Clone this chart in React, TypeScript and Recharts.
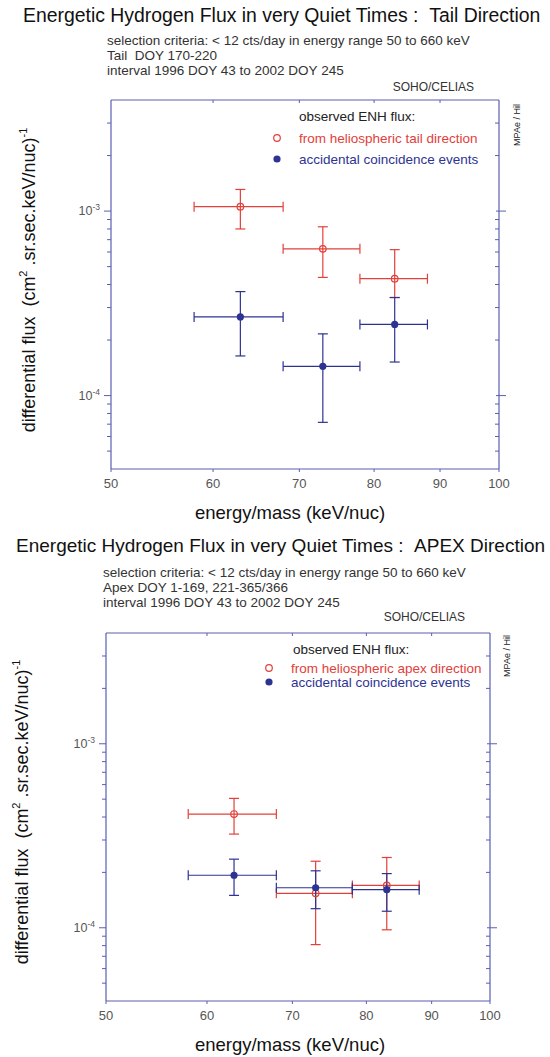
import React from 'react';
import { ScatterChart, Scatter, XAxis, YAxis, ErrorBar } from 'recharts';

// ---- data ----
const energyCenters = [63, 73, 83];
const energyLow = [58, 68, 78];
const energyHigh = [68, 78, 88];

const tailFlux = [1.057e-3, 6.24e-4, 4.3e-4];
const tailFluxLow = [8.0e-4, 4.37e-4, 3.4e-4];
const tailFluxHigh = [1.31e-3, 8.22e-4, 6.18e-4];

const tailAccFlux = [2.67e-4, 1.44e-4, 2.43e-4];
const tailAccLow = [1.64e-4, 7.16e-5, 1.52e-4];
const tailAccHigh = [3.66e-4, 2.16e-4, 3.4e-4];

const apexFlux = [4.15e-4, 1.54e-4, 1.7e-4];
const apexFluxLow = [3.23e-4, 8.1e-5, 9.75e-5];
const apexFluxHigh = [5.05e-4, 2.3e-4, 2.41e-4];

const apexAccFlux = [1.93e-4, 1.65e-4, 1.61e-4];
const apexAccLow = [1.5e-4, 1.27e-4, 1.23e-4];
const apexAccHigh = [2.36e-4, 2.04e-4, 1.97e-4];

const xTicks = [50, 60, 70, 80, 90, 100];
const xTopTicks = [60, 70, 80, 90];
const yTicks = [
  5e-5, 6e-5, 7e-5, 8e-5, 9e-5, 1e-4, 2e-4, 3e-4, 4e-4, 5e-4, 6e-4, 7e-4, 8e-4, 9e-4, 1e-3, 2e-3, 3e-3,
];
const yMajorTicks = [1e-4, 1e-3];
const yMajorLabels = ['-4', '-3'];
const xDomain = [50, 100];
const yDomain = [4e-5, 4e-3];

const NB = '\u00A0';
const subtitleTail = [
  'selection criteria: < 12 cts/day in energy range 50 to 660 keV',
  `Tail ${NB}DOY 170-220`,
  'interval 1996 DOY 43 to 2002 DOY 245',
];
const subtitleApex = [
  'selection criteria: < 12 cts/day in energy range 50 to 660 keV',
  'Apex DOY 1-169, 221-365/366',
  'interval 1996 DOY 43 to 2002 DOY 245',
];

// ---- styles ----
const AXIS = '#5a5eb2';
const RED = '#e2403a';
const BLUE = '#2d3392';
const FONT = '"Liberation Sans", Arial, sans-serif';
const TICKTXT = '#555';

function makeRows(y: number[], lo: number[], hi: number[]) {
  return energyCenters.map((x, i) => ({
    x,
    y: y[i],
    ex: [x - energyLow[i], energyHigh[i] - x],
    ey: [y[i] - lo[i], hi[i] - y[i]],
  }));
}

const isMajor = (v: number) => yMajorTicks.some((m) => Math.abs(m - v) / m < 1e-6);

const LeftTick = (props: any) => {
  const { x, y, payload } = props;
  const v = payload.value;
  const major = isMajor(v);
  const idx = yMajorTicks.findIndex((m) => Math.abs(m - v) / m < 1e-6);
  return (
    <g>
      <line x1={x - (major ? 7 : 4)} x2={x} y1={y} y2={y} stroke={AXIS} strokeWidth={1} />
      {major && (
        <text x={x - 11} y={y + 4} textAnchor="end" fontSize={12.5} fill={TICKTXT} fontFamily={FONT}>
          10<tspan dy={-5} fontSize={8.5}>{yMajorLabels[idx]}</tspan>
        </text>
      )}
    </g>
  );
};

const RightTick = (props: any) => {
  const { x, y, payload } = props;
  const major = isMajor(payload.value);
  return major ? (
    <line x1={x - 3} x2={x + 7} y1={y} y2={y} stroke={AXIS} strokeWidth={1} />
  ) : (
    <line x1={x - 4} x2={x} y1={y} y2={y} stroke={AXIS} strokeWidth={1} />
  );
};

const BottomTick = (props: any) => {
  const { x, y, payload } = props;
  return (
    <g>
      <line x1={x} x2={x} y1={y} y2={y + 3} stroke={AXIS} strokeWidth={1} />
      <text x={x} y={y + 19} textAnchor="middle" fontSize={13} fill={TICKTXT} fontFamily={FONT}>
        {payload.value}
      </text>
    </g>
  );
};

const TopTick = (props: any) => {
  const { x, y } = props;
  return <line x1={x} x2={x} y1={y} y2={y + 3} stroke={AXIS} strokeWidth={1} />;
};

const OpenCircle = (p: any) => (
  <circle cx={p.cx} cy={p.cy} r={3.3} fill="none" stroke={RED} strokeWidth={1.2} />
);
const FilledCircle = (p: any) => <circle cx={p.cx} cy={p.cy} r={3.6} fill={BLUE} stroke="none" />;

type PanelProps = {
  top: number;
  height: number;
  plot: { left: number; right: number; top: number; bottom: number };
  title: string;
  titleX: number;
  titleY: number;
  titleSize: number;
  subtitles: string[];
  subX: number;
  subY: number;
  sohoX: number;
  sohoY: number;
  mpaeX: number;
  mpaeY: number;
  legend: { x: number; y: number; mx: number; tx: number; r1: number; r2: number; label: string };
  ylabel: { x: number; y: number };
  xlabel: { x: number; y: number };
  red: any[];
  blue: any[];
};

const Panel = (p: PanelProps) => {
  const W = 550;
  const margin = {
    left: p.plot.left - 40,
    right: W - p.plot.right - 10,
    top: p.plot.top - 10,
    bottom: p.height - p.plot.bottom - 30,
  };
  return (
    <div style={{ position: 'absolute', left: 0, top: p.top, width: W, height: p.height }}>
      <ScatterChart width={W} height={p.height} margin={margin}>
        <XAxis
          xAxisId="b"
          dataKey="x"
          type="number"
          scale="log"
          domain={xDomain}
          ticks={xTicks}
          interval={0}
          allowDataOverflow
          height={30}
          tickSize={0}
          tickMargin={0}
          tickLine={false}
          axisLine={{ stroke: AXIS, strokeWidth: 1.2 }}
          tick={<BottomTick />}
        />
        <XAxis
          xAxisId="t"
          orientation="top"
          dataKey="x"
          type="number"
          scale="log"
          domain={xDomain}
          ticks={xTopTicks}
          interval={0}
          allowDataOverflow
          height={10}
          tickSize={0}
          tickMargin={0}
          tickLine={false}
          axisLine={{ stroke: AXIS, strokeWidth: 1.2 }}
          tick={<TopTick />}
        />
        <YAxis
          yAxisId="l"
          dataKey="y"
          type="number"
          scale="log"
          domain={yDomain}
          ticks={yTicks}
          interval={0}
          allowDataOverflow
          width={40}
          tickSize={0}
          tickMargin={0}
          tickLine={false}
          axisLine={{ stroke: AXIS, strokeWidth: 1.2 }}
          tick={<LeftTick />}
        />
        <YAxis
          yAxisId="r"
          orientation="right"
          dataKey="y"
          type="number"
          scale="log"
          domain={yDomain}
          ticks={yTicks}
          interval={0}
          allowDataOverflow
          width={10}
          tickSize={0}
          tickMargin={0}
          tickLine={false}
          axisLine={{ stroke: AXIS, strokeWidth: 1.2 }}
          tick={<RightTick />}
        />
        <Scatter data={p.red} xAxisId="b" yAxisId="l" isAnimationActive={false} shape={OpenCircle}>
          <ErrorBar dataKey="ex" direction="x" width={5} stroke={RED} strokeWidth={1.2} isAnimationActive={false} />
          <ErrorBar dataKey="ey" direction="y" width={5} stroke={RED} strokeWidth={1.2} isAnimationActive={false} />
        </Scatter>
        <Scatter data={p.blue} xAxisId="b" yAxisId="l" isAnimationActive={false} shape={FilledCircle}>
          <ErrorBar dataKey="ex" direction="x" width={5} stroke={BLUE} strokeWidth={1.2} isAnimationActive={false} />
          <ErrorBar dataKey="ey" direction="y" width={5} stroke={BLUE} strokeWidth={1.2} isAnimationActive={false} />
        </Scatter>
        {/* invisible series to bind secondary axes */}
        <Scatter data={p.blue} xAxisId="t" yAxisId="r" isAnimationActive={false} shape={() => <g />} />
      </ScatterChart>
      <svg
        width={W}
        height={p.height}
        style={{ position: 'absolute', left: 0, top: 0, pointerEvents: 'none' }}
        fontFamily={FONT}
      >
        <text x={p.titleX} y={p.titleY} fontSize={p.titleSize} fill="#111">
          {p.title}
        </text>
        {p.subtitles.map((s, i) => (
          <text key={i} x={p.subX} y={p.subY + i * 15} fontSize={13.5} fill="#333">
            {s}
          </text>
        ))}
        <text x={p.sohoX} y={p.sohoY} fontSize={12} fill="#333" textAnchor="end">
          SOHO/CELIAS
        </text>
        <text
          transform={`translate(${p.mpaeX}, ${p.mpaeY}) rotate(-90)`}
          fontSize={9}
          fill="#222"
          textAnchor="middle"
        >
          MPAe / Hil
        </text>
        <text x={p.legend.tx} y={p.legend.y} fontSize={13.5} fill="#222">
          observed ENH flux:
        </text>
        <circle cx={p.legend.mx} cy={p.legend.r1} r={3.3} fill="none" stroke={RED} strokeWidth={1.2} />
        <text x={p.legend.x} y={p.legend.r1 + 5} fontSize={13.5} fill={RED}>
          {p.legend.label}
        </text>
        <circle cx={p.legend.mx} cy={p.legend.r2} r={3.6} fill={BLUE} />
        <text x={p.legend.x} y={p.legend.r2 + 5} fontSize={13.5} fill={BLUE}>
          accidental coincidence events
        </text>
        <text
          transform={`translate(${p.ylabel.x}, ${p.ylabel.y}) rotate(-90)`}
          fontSize={18}
          fill="#111"
          textAnchor="middle"
        >
          {`differential flux ${NB}(cm`}
          <tspan dy={-8} fontSize={11}>2</tspan>
          <tspan dy={8}>{`${NB}.sr.sec.keV/nuc)`}</tspan>
          <tspan dy={-8} fontSize={11}>-1</tspan>
        </text>
        <text x={p.xlabel.x} y={p.xlabel.y} fontSize={18.5} fill="#111" textAnchor="middle">
          energy/mass (keV/nuc)
        </text>
      </svg>
    </div>
  );
};

export default function App() {
  const tailRed = makeRows(tailFlux, tailFluxLow, tailFluxHigh);
  const tailBlue = makeRows(tailAccFlux, tailAccLow, tailAccHigh);
  const apexRed = makeRows(apexFlux, apexFluxLow, apexFluxHigh);
  const apexBlue = makeRows(apexAccFlux, apexAccLow, apexAccHigh);
  return (
    <div
      style={{
        position: 'absolute',
        left: 0,
        top: 0,
        width: 550,
        height: 1057,
        background: '#fff',
        overflow: 'hidden',
      }}
    >
      <Panel
        top={0}
        height={528}
        plot={{ left: 111, right: 499, top: 100, bottom: 469 }}
        title={`Energetic Hydrogen Flux in very Quiet Times : ${NB}Tail Direction`}
        titleX={23}
        titleY={22}
        titleSize={19.4}
        subtitles={subtitleTail}
        subX={107}
        subY={45}
        sohoX={474}
        sohoY={91}
        mpaeX={520}
        mpaeY={125}
        legend={{ x: 299, y: 121, mx: 277, tx: 299, r1: 138, r2: 159, label: 'from heliospheric tail direction' }}
        ylabel={{ x: 35, y: 280 }}
        xlabel={{ x: 290, y: 519 }}
        red={tailRed}
        blue={tailBlue}
      />
      <Panel
        top={528}
        height={529}
        plot={{ left: 106, right: 490, top: 105, bottom: 473 }}
        title={`Energetic Hydrogen Flux in very Quiet Times : ${NB}APEX Direction`}
        titleX={16}
        titleY={24}
        titleSize={19}
        subtitles={subtitleApex}
        subX={103}
        subY={49}
        sohoX={465}
        sohoY={93}
        mpaeX={510}
        mpaeY={128}
        legend={{ x: 291, y: 126, mx: 269, tx: 293, r1: 140, r2: 154, label: 'from heliospheric apex direction' }}
        ylabel={{ x: 28, y: 284 }}
        xlabel={{ x: 290, y: 523 }}
        red={apexRed}
        blue={apexBlue}
      />
    </div>
  );
}
